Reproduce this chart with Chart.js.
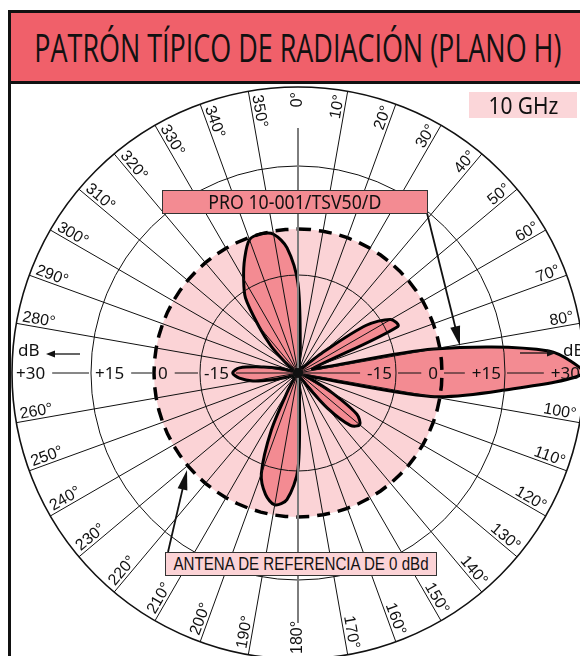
<!DOCTYPE html>
<html lang="es">
<head>
<meta charset="utf-8">
<title>Patrón típico de radiación (plano H)</title>
<script src="https://cdn.jsdelivr.net/npm/chart.js@4.4.1/dist/chart.umd.min.js"></script>
<style>
  html, body { margin: 0; padding: 0; }
  body { width: 580px; height: 656px; overflow: hidden; position: relative; background: #fff; font-family: "Noto Sans", sans-serif; }
  #frame { position: absolute; left: 8px; top: 10px; width: 640px; height: 700px; border: 3px solid #111; box-sizing: border-box; }
  #banner { position: absolute; left: 11px; top: 13px; width: 640px; height: 68px; background: #F0606A; border-bottom: 3px solid #111; }
  #title { position: absolute; left: 0; top: 13px; width: 596px; height: 68px; display: flex; align-items: center; justify-content: center; }
  #chart { position: absolute; left: 8px; top: 83px; }
  .box { position: absolute; box-sizing: border-box; display: flex; align-items: center; justify-content: center; white-space: nowrap; color: #111; }
  .fit { display: inline-block; white-space: nowrap; }
</style>
</head>
<body>
<div id="frame"></div>
<div id="banner"></div>
<div id="title"><span class="fit" data-w="527" style="font: 38px 'Open Sans', sans-serif; color:#111;">PATRÓN TÍPICO DE RADIACIÓN (PLANO H)</span></div>
<canvas id="chart" width="580" height="580"></canvas>
<div class="box" style="left:469px; top:92px; width:108px; height:26px; background:#FBD6D9;">
  <span class="fit" data-w="70" style="font: 23px 'Noto Sans', sans-serif;">10 GHz</span>
</div>
<div class="box" style="left:162px; top:190px; width:266px; height:24px; background:#F38B92; border:1.5px solid #333;">
  <span class="fit" data-w="173" style="font: 19px 'Noto Sans', sans-serif;">PRO 10-001/TSV50/D</span>
</div>
<div class="box" style="left:165px; top:552px; width:272px; height:24px; background:#FCD3D6; border:1.5px solid #333;">
  <span class="fit" data-w="255" style="font: 18px 'Liberation Sans', Arial, sans-serif;">ANTENA DE REFERENCIA DE 0 dBd</span>
</div>
<script>
// ---- data ----
// azimuth of each sample, degrees clockwise from 0° (top)
const angles = [
  0, 5, 10, 15, 20, 25, 30, 35, 40, 45, 50, 55, 60, 65, 70, 75, 80, 85,
  90, 95, 100, 105, 110, 115, 120, 125, 130, 135, 140, 145, 150, 155, 160, 165, 170, 175,
  180, 185, 190, 195, 200, 205, 210, 215, 220, 225, 230, 235, 240, 245, 250, 255, 260, 265,
  270, 275, 280, 285, 290, 295, 300, 305, 310, 315, 320, 325, 330, 335, 340, 345, 350, 355
];

// PRO 10-001/TSV50/D gain in dBd, one list per quadrant
const gainQ1 = [-19, -48, -57, -57, -57, -57, -57, -57, -57, -55, -46, -22, -12, -11, -50, -53, -2, 23.5];
const gainQ2 = [30, 14, -3, -53, -57, -53, -42, -27, -23, -26, -39, -53, -57, -57, -57, -57, -57, -52];
const gainQ3 = [-16, -5.5, -3.3, -6, -12, -31, -51, -57, -57, -57, -57, -57, -57, -57, -54, -48, -39, -33];
const gainQ4 = [-30, -33, -44, -52, -57, -57, -57, -57, -52, -42.5, -32, -18, -11.5, -5.8, -0.7, 0, -1, -6];

// reference antenna of 0 dBd
const referenceDb = [
  0, 0, 0, 0, 0, 0, 0, 0, 0, 0, 0, 0, 0, 0, 0, 0, 0, 0,
  0, 0, 0, 0, 0, 0, 0, 0, 0, 0, 0, 0, 0, 0, 0, 0, 0, 0,
  0, 0, 0, 0, 0, 0, 0, 0, 0, 0, 0, 0, 0, 0, 0, 0, 0, 0,
  0, 0, 0, 0, 0, 0, 0, 0, 0, 0, 0, 0, 0, 0, 0, 0, 0, 0
];

const degreeTicks = [0, 10, 20, 30, 40, 50, 60, 70, 80, 100, 110, 120, 130, 140, 150, 160, 170,
  180, 190, 200, 210, 220, 230, 240, 250, 260, 280, 290, 300, 310, 320, 330, 340, 350];
const dbRings = [-15, 15, 30];
const dbTicks = [-15, 0, 15, 30];
const dbTickText = ['-15', '0', '+15', '+30'];

// the printed dB rings are not evenly spaced: piecewise mapping dB -> radial units
const scaleDb = [-60, -15, 0, 15, 30];
const scaleUnits = [0, 34.27, 50.35, 72.38, 100];

function toR(db) {
  if (db <= scaleDb[0]) return scaleUnits[0];
  for (let i = 1; i < scaleDb.length; i++) {
    if (db <= scaleDb[i]) {
      const t = (db - scaleDb[i - 1]) / (scaleDb[i] - scaleDb[i - 1]);
      return scaleUnits[i - 1] + t * (scaleUnits[i] - scaleUnits[i - 1]);
    }
  }
  return scaleUnits[scaleUnits.length - 1];
}

const gainDb = gainQ1.concat(gainQ2, gainQ3, gainQ4);

// ---- drawing helpers ----
function arrow(ctx, x1, y1, x2, y2, len, half) {
  const a = Math.atan2(y2 - y1, x2 - x1);
  ctx.beginPath();
  ctx.moveTo(x1, y1);
  ctx.lineTo(x2 - Math.cos(a) * len * 0.8, y2 - Math.sin(a) * len * 0.8);
  ctx.stroke();
  ctx.beginPath();
  ctx.moveTo(x2, y2);
  ctx.lineTo(x2 - Math.cos(a) * len - Math.sin(a) * half, y2 - Math.sin(a) * len + Math.cos(a) * half);
  ctx.lineTo(x2 - Math.cos(a) * len + Math.sin(a) * half, y2 - Math.sin(a) * len - Math.cos(a) * half);
  ctx.closePath();
  ctx.fill();
}

const overlay = {
  id: 'overlay',
  afterDraw(chart) {
    const ctx = chart.ctx;
    const s = chart.scales.r;
    const cx = s.xCenter, cy = s.yCenter;
    const outer = s.getDistanceFromCenterForValue(100);
    const px = db => s.getDistanceFromCenterForValue(toR(db));
    // page coords -> canvas coords
    const ox = 8, oy = 83;

    ctx.save();
    ctx.fillStyle = '#111';
    ctx.strokeStyle = '#111';

    // 0° / 180° axis in grey
    ctx.strokeStyle = '#7d7d7d';
    ctx.lineWidth = 2;
    ctx.beginPath();
    ctx.moveTo(cx, cy - 245); ctx.lineTo(cx, cy + 250);
    ctx.stroke();

    // dB scale along the 90° / 270° axis
    ctx.font = '17px "Noto Sans", sans-serif';
    ctx.textBaseline = 'middle';
    ctx.strokeStyle = '#111';
    ctx.lineWidth = 1;
    [-1, 1].forEach(side => {
      const gaps = [];
      dbTicks.forEach((v, i) => {
        const txt = dbTickText[i];
        const w = ctx.measureText(txt).width;
        const end = px(v) - 4;
        ctx.textAlign = side < 0 ? 'left' : 'right';
        ctx.fillText(txt, cx + side * end, cy + 1);
        gaps.push([end - w - 7, end + 6]);
      });
      gaps.sort((a, b) => a[0] - b[0]);
      let r0 = 0;
      ctx.beginPath();
      gaps.forEach(g => {
        if (g[0] > r0) { ctx.moveTo(cx + side * r0, cy); ctx.lineTo(cx + side * g[0], cy); }
        r0 = Math.max(r0, g[1]);
      });
      if (r0 < outer) { ctx.moveTo(cx + side * r0, cy); ctx.lineTo(cx + side * outer, cy); }
      ctx.stroke();
    });

    // centre hub
    ctx.beginPath();
    ctx.arc(cx, cy, 5, 0, Math.PI * 2);
    ctx.fill();

    // azimuth labels
    ctx.font = '16px "Liberation Sans", Arial, sans-serif';
    degreeTicks.forEach(a => {
      const rad = a * Math.PI / 180;
      const R = 281;
      ctx.save();
      ctx.translate(cx + Math.sin(rad) * R, cy - Math.cos(rad) * R);
      if (a < 180) { ctx.rotate((a - 90) * Math.PI / 180); ctx.textAlign = 'right'; }
      else { ctx.rotate((a - 270) * Math.PI / 180); ctx.textAlign = 'left'; }
      if (a % 180 === 0) { ctx.textBaseline = 'middle'; ctx.fillText(a + '°', 0, 0); }
      else { ctx.textBaseline = 'alphabetic'; ctx.fillText(a + '°', 0, -3); }
      ctx.restore();
    });

    // "dB" direction markers
    ctx.font = '17px "Noto Sans", sans-serif';
    ctx.textAlign = 'left';
    ctx.textBaseline = 'alphabetic';
    ctx.fillText('dB', 18 - ox, 356 - oy);
    ctx.fillText('dB', 563 - ox, 356 - oy);
    ctx.lineWidth = 1.3;
    arrow(ctx, 80 - ox, 354 - oy, 46 - ox, 354 - oy, 9, 3.5);
    arrow(ctx, 520 - ox, 353 - oy, 556 - ox, 353 - oy, 9, 3.5);

    // callout arrows
    ctx.lineWidth = 1.8;
    arrow(ctx, 427 - ox, 213 - oy, 460 - ox, 346 - oy, 20, 5);
    arrow(ctx, 168 - ox, 552 - oy, 187 - ox, 470 - oy, 20, 5);
    ctx.restore();
  }
};

// ---- chart ----
const ctx = document.getElementById('chart').getContext('2d');
const myChart = new Chart(ctx, {
  type: 'radar',
  data: {
    labels: angles.map(a => a + '°'),
    datasets: [
      {
        label: 'ANTENA DE REFERENCIA DE 0 dBd',
        data: referenceDb.map(toR),
        fill: true,
        backgroundColor: '#FBD3D6',
        borderWidth: 0,
        order: 3
      },
      {
        label: 'PRO 10-001/TSV50/D',
        data: gainDb.map(toR),
        fill: true,
        backgroundColor: '#F38B92',
        borderColor: '#000',
        borderWidth: 3,
        tension: 0.3,
        order: 2
      },
      {
        label: 'ANTENA DE REFERENCIA DE 0 dBd',
        data: referenceDb.map(toR),
        fill: false,
        borderColor: '#000',
        borderWidth: 3.5,
        borderDash: [13, 8],
        order: 1
      }
    ]
  },
  options: {
    responsive: false,
    animation: false,
    devicePixelRatio: 1,
    layout: { padding: 4 },
    elements: { point: { radius: 0 } },
    plugins: { legend: { display: false }, tooltip: { enabled: false } },
    scales: {
      r: {
        min: 0,
        max: 100,
        afterBuildTicks: scale => {
          scale.ticks = [{ value: 0 }].concat(dbRings.map(v => ({ value: toR(v) })));
        },
        ticks: { display: false },
        pointLabels: { display: false },
        grid: {
          circular: true,
          color: '#111',
          lineWidth: c => (c.index === 3 ? 1.6 : 1),
          z: 1
        },
        angleLines: {
          color: '#111',
          lineWidth: c => (c.index % 2 === 0 && c.index % 18 !== 0 ? 1 : 0)
        }
      }
    }
  },
  plugins: [overlay]
});

// squeeze the condensed captions to their printed widths
document.querySelectorAll('.fit').forEach(el => {
  const w = el.getBoundingClientRect().width;
  el.style.transform = 'scaleX(' + (Number(el.dataset.w) / w) + ')';
});
</script>
</body>
</html>
